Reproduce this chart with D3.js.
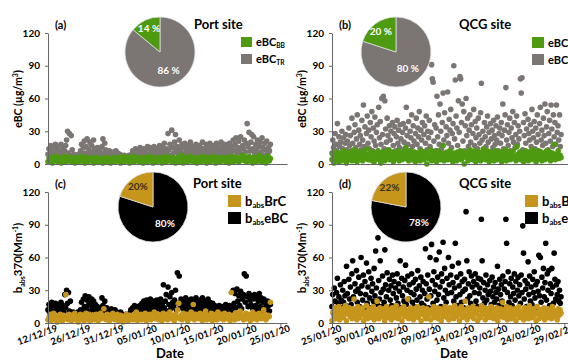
<!DOCTYPE html>
<html>
<head>
<meta charset="utf-8">
<script src="https://cdn.jsdelivr.net/npm/d3@7"></script>
<style>
  body { margin: 0; background: #fff; }
  text { font-family: Lato, "Open Sans", sans-serif; font-weight: bold; }
</style>
</head>
<body>
<svg id="chart" width="568" height="360"></svg>
<script>
// tick labels
const yTicks = [0, 30, 60, 90, 120];
const portDates = ['12/12/19', '26/12/19', '31/12/19', '05/01/20', '10/01/20', '15/01/20', '20/01/20', '25/01/20'];
const qcgDates = ['25/01/20', '30/01/20', '04/02/20', '09/02/20', '14/02/20', '19/02/20', '24/02/20', '29/02/20'];

// days covered by each campaign (axis units, 5 per tick)
const portDays = 33.5;
const qcgDays = 34.5;

// pie shares [large, small]
const piePortEBC = [86, 14];
const pieQcgEBC = [80, 20];
const piePortAbs = [80, 20];
const pieQcgAbs = [78, 22];

// (a) port site eBC_TR (µg/m3)
const portTR = [
  9, 14, 7, 17, 11, 6, 15, 10, 18, 8, 13, 16, 7, 11, 18, 9, 14, 6, 12, 17,
  22, 30, 10, 28, 8, 26, 13, 7, 9, 6, 8, 7, 5, 9, 7, 12, 18, 8, 15, 21,
  10, 16, 23, 9, 13, 20, 7, 17, 11, 22, 14, 8, 12, 15, 9, 11, 14, 7, 16, 23,
  10, 19, 13, 8, 11, 7, 12, 9, 10, 6, 11, 8, 9, 12, 7, 10, 6, 9, 5, 8,
  6, 5, 8, 7, 5, 6, 4, 8, 6, 7, 9, 12, 7, 10, 14, 8, 11, 13, 6, 15,
  9, 12, 7, 14, 10, 8, 13, 16, 9, 11, 15, 7, 12, 10, 16, 8, 14, 11, 9, 13,
  17, 8, 12, 15, 10, 19, 9, 14, 11, 28, 13, 18, 8, 31, 15, 10, 20, 27, 12, 16,
  9, 22, 14, 11, 18, 8, 15, 19, 10, 13, 17, 9, 12, 20, 15, 8, 16, 11, 14, 18,
  10, 13, 17, 9, 15, 12, 20, 8, 14, 11, 18, 16, 9, 13, 19, 10, 15, 12, 17, 8,
  14, 19, 11, 16, 9, 13, 20, 10, 15, 12, 18, 8, 14, 17, 11, 19, 9, 13, 16, 22,
  12, 18, 24, 10, 15, 21, 13, 25, 9, 17, 14, 22, 11, 19, 37, 16, 29, 12, 20, 27,
  14, 25, 10, 18, 13, 22, 9, 16, 20, 11, 24, 15, 8, 19, 13, 21, 10, 15, 12, 18];
// (a) port site eBC_BB (µg/m3)
const portBB = [
  2, 5, 3, 6, 1, 4, 7, 3, 5, 2, 6, 4, 1, 5, 3, 7, 2, 4, 6, 3,
  5, 2, 6, 4, 1, 5, 3, 6, 2, 4, 7, 3, 5, 1, 6, 4, 2, 5, 3, 6,
  4, 1, 5, 3, 6, 2, 4, 5, 3, 1, 4, 6, 2, 5, 3, 4, 1, 5, 3, 6,
  2, 4, 6, 3, 5, 1, 4, 7, 2, 5, 3, 6, 4, 1, 5, 3, 7, 2, 4, 6,
  3, 5, 2, 6, 4, 1, 5, 3, 6, 2, 4, 7, 3, 5, 1, 6, 4, 2, 5, 3,
  6, 4, 1, 5, 3, 7, 2, 4, 6, 3, 5, 2, 6, 4, 1, 5, 3, 6, 2, 8,
  4, 1, 5, 3, 6, 2, 4, 7, 3, 5, 2, 6, 4, 1, 5, 3, 6, 2, 4, 7,
  3, 5, 1, 6, 4, 2, 5, 3, 7, 4, 1, 5, 3, 6, 2, 4, 6, 3, 5, 2,
  6, 4, 1, 5, 3, 7, 2, 4, 6, 3, 5, 2, 6, 4, 8, 5, 3, 6, 2, 4,
  7, 3, 5, 1, 6, 4, 2, 5, 3, 8, 4, 2, 6, 3, 5, 1, 4, 7, 3, 5];

// (b) QCG site eBC_TR (µg/m3)
const qcgTR = [
  10, 22, 15, 6, 28, 18, 12, 37, 8, 25, 16, 20, 9, 30, 14, 24, 11, 19, 27, 13,
  21, 8, 33, 17, 26, 12, 42, 19, 10, 29, 36, 15, 23, 45, 11, 31, 18, 26, 13, 40,
  22, 54, 16, 34, 9, 28, 44, 19, 31, 14, 38, 25, 48, 12, 33, 21, 43, 17, 29, 36,
  11, 52, 24, 39, 18, 60, 27, 62, 14, 58, 32, 20, 42, 26, 13, 35, 22, 30, 9, 38,
  17, 28, 34, 12, 25, 40, 19, 31, 15, 36, 23, 10, 29, 37, 20, 14, 33, 52, 26, 18,
  39, 12, 30, 24, 45, 16, 35, 21, 9, 28, 42, 18, 33, 25, 48, 14, 31, 22, 38, 11,
  27, 35, 19, 44, 13, 30, 24, 40, 16, 29, 91, 78, 75, 21, 36, 12, 33, 62, 25, 45,
  18, 55, 30, 14, 38, 65, 22, 47, 10, 34, 26, 66, 19, 41, 31, 50, 15, 28, 37, 90,
  23, 77, 44, 33, 17, 58, 29, 80, 78, 38, 55, 21, 48, 12, 35, 60, 26, 42, 16, 31,
  45, 20, 36, 11, 28, 50, 17, 39, 24, 33, 14, 42, 27, 19, 47, 74, 22, 30, 13, 38,
  25, 16, 34, 44, 20, 29, 11, 37, 23, 31, 15, 40, 26, 18, 35, 22, 43, 12, 28, 33,
  19, 38, 26, 55, 14, 31, 45, 70, 22, 36, 17, 29, 42, 12, 33, 24, 48, 20, 38, 15,
  27, 44, 18, 35, 23, 30, 78, 65, 79, 13, 38, 26, 46, 19, 32, 11, 41, 28, 22, 36,
  16, 50, 30, 24, 39, 14, 33, 20, 45, 27, 12, 37, 52, 22, 31, 17, 42, 26, 55, 19,
  34, 48, 13, 28, 40, 21, 54, 32, 16, 45, 25, 38, 18, 54, 29, 35, 22, 45, 16, 27];
// (b) QCG site eBC_BB (µg/m3)
const qcgBB = [
  4, 9, 1, 7, 11, 5, 8, 2, 10, 6, 3, 9, 12, 5, 7, 1, 8, 11, 4, 6,
  10, 3, 8, 13, 5, 7, 2, 9, 11, 4, 6, 10, 3, 8, 12, 5, 7, 14, 4, 9,
  6, 11, 3, 8, 2, 10, 5, 7, 12, 4, 9, 1, 6, 11, 8, 3, 10, 5, 7, 13,
  4, 9, 6, 11, 2, 8, 10, 5, 7, 12, 3, 9, 6, 4, 11, 8, 5, 15, 7, 10,
  3, 9, 12, 6, 4, 8, 11, 2, 7, 10, 5, 9, 3, 12, 6, 8, 4, 11, 7, 0,
  10, 5, 8, 13, 3, 7, 11, 6, 9, 2, 12, 5, 8, 4, 10, 7, 17, 3, 9, 6,
  11, 4, 8, 12, 5, 7, 2, 10, 6, 9, 3, 11, 8, 5, 12, 4, 7, 10, 0, 9,
  6, 11, 3, 8, 13, 5, 10, 4, 7, 12, 2, 9, 6, 11, 8, 3, 10, 5, 14, 7,
  4, 9, 12, 6, 2, 8, 11, 5, 10, 3, 7, 12, 4, 9, 6, 11, 8, 2, 10, 5,
  7, 13, 3, 9, 11, 6, 4, 10, 8, 12, 5, 7, 3, 16, 9, 6, 11, 4, 8, 10,
  2, 7, 12, 5, 9, 3, 11, 6, 8, 13, 4, 10, 7, 2, 9, 12, 5, 8, 11, 3,
  6, 10, 4, 9, 12, 7, 5, 11, 3, 8, 10, 6, 18, 4, 9, 7, 12, 5, 8, 6];

// (c) port site babs370 eBC (Mm-1)
const portEBC = [
  12, 17, 9, 15, 19, 11, 16, 8, 18, 13, 10, 17, 14, 9, 19, 12, 16, 10, 26, 14,
  30, 18, 28, 11, 20, 9, 8, 10, 7, 9, 6, 8, 10, 7, 9, 12, 19, 11, 22, 15,
  25, 13, 21, 16, 24, 11, 18, 22, 14, 20, 12, 17, 9, 15, 11, 14, 10, 13, 23, 16,
  12, 20, 9, 14, 11, 8, 12, 10, 13, 7, 11, 9, 12, 8, 10, 6, 9, 7, 10, 6,
  8, 5, 7, 6, 8, 5, 7, 6, 9, 12, 8, 14, 10, 16, 11, 13, 9, 15, 12, 16,
  10, 18, 13, 20, 11, 16, 21, 14, 19, 12, 22, 15, 18, 11, 20, 14, 17, 21, 13, 19,
  15, 22, 12, 18, 35, 14, 20, 26, 11, 33, 17, 24, 13, 28, 19, 15, 21, 30, 12, 46,
  18, 43, 14, 22, 16, 20, 12, 19, 23, 15, 21, 11, 18, 14, 22, 17, 13, 20, 16, 23,
  12, 19, 15, 21, 11, 18, 23, 14, 17, 20, 13, 16, 22, 10, 19, 15, 12, 18, 14, 16,
  11, 15, 13, 10, 16, 12, 14, 9, 15, 11, 13, 17, 10, 14, 12, 16, 11, 15, 13, 30,
  18, 27, 14, 31, 20, 25, 16, 29, 13, 22, 26, 45, 19, 43, 24, 15, 27, 21, 17, 25,
  13, 22, 26, 16, 24, 12, 20, 27, 15, 23, 11, 19, 22, 14, 18, 12, 20, 16, 11, 17];
// (c) port site babs370 BrC (Mm-1)
const portBrC = [
  3, 6, 8, 2, 5, 9, 4, 7, 1, 6, 3, 8, 5, 2, 7, 4, 26, 6, 3, 8,
  5, 2, 7, 4, 9, 3, 6, 1, 5, 8, 4, 7, 2, 6, 9, 3, 5, 8, 2, 6,
  4, 7, 3, 8, 5, 2, 6, 9, 4, 7, 13, 5, 3, 8, 6, 2, 7, 4, 9, 5,
  3, 6, 8, 2, 5, 7, 4, 1, 6, 3, 8, 5, 2, 7, 4, 6, 3, 8, 5, 10,
  2, 6, 4, 8, 3, 7, 5, 9, 2, 6, 4, 8, 3, 7, 5, 10, 4, 6, 8, 3,
  5, 7, 2, 9, 4, 6, 8, 3, 5, 10, 7, 4, 6, 2, 8, 5, 12, 18, 4, 7,
  3, 9, 5, 6, 8, 2, 7, 4, 10, 6, 17, 3, 8, 5, 7, 4, 9, 6, 2, 8,
  5, 11, 3, 7, 6, 4, 9, 2, 8, 5, 7, 3, 10, 4, 6, 8, 5, 3, 9, 7,
  4, 6, 8, 2, 28, 5, 7, 3, 9, 6, 4, 8, 11, 5, 7, 3, 6, 9, 4, 8,
  5, 2, 7, 10, 4, 6, 8, 3, 5, 9, 7, 4, 6, 12, 8, 3, 5, 7, 6, 19];

// (d) QCG site babs370 eBC (Mm-1)
const qcgEBC = [
  15, 26, 9, 32, 20, 12, 28, 41, 18, 24, 11, 35, 21, 14, 30, 19, 38, 25, 16, 52,
  27, 13, 40, 22, 33, 17, 45, 57, 24, 11, 36, 29, 48, 19, 31, 42, 15, 27, 60, 34,
  21, 44, 12, 38, 26, 55, 18, 33, 47, 23, 14, 41, 29, 36, 20, 50, 25, 66, 32, 17,
  78, 39, 22, 57, 28, 15, 43, 31, 19, 67, 35, 24, 46, 13, 30, 40, 21, 34, 16, 44,
  27, 38, 12, 32, 23, 45, 18, 36, 29, 57, 14, 41, 25, 33, 20, 39, 53, 17, 30, 43,
  22, 35, 11, 28, 45, 19, 37, 26, 15, 40, 31, 21, 48, 13, 34, 24, 42, 18, 30, 38,
  16, 27, 68, 36, 22, 44, 14, 31, 60, 25, 72, 39, 18, 47, 29, 35, 58, 21, 42, 26,
  65, 33, 15, 45, 38, 74, 23, 50, 30, 19, 41, 27, 60, 35, 12, 44, 28, 52, 37, 20,
  32, 73, 24, 42, 16, 55, 34, 26, 45, 19, 38, 29, 14, 40, 31, 102, 57, 22, 36, 47,
  25, 18, 43, 33, 12, 38, 28, 45, 20, 35, 15, 41, 27, 32, 40, 95, 57, 23, 37, 18,
  30, 44, 21, 35, 26, 13, 39, 29, 17, 42, 24, 33, 19, 37, 28, 22, 52, 31, 16, 40,
  26, 35, 20, 43, 14, 31, 38, 95, 73, 28, 47, 19, 36, 24, 41, 16, 33, 27, 45, 21,
  38, 13, 30, 42, 25, 35, 18, 44, 28, 89, 64, 22, 39, 31, 15, 36, 56, 26, 43, 20,
  33, 17, 40, 28, 47, 23, 35, 14, 38, 29, 62, 25, 60, 19, 42, 32, 50, 24, 37, 73,
  21, 45, 30, 48, 16, 36, 27, 50, 33, 18, 64, 40, 22, 35, 26, 38, 20, 30, 18, 24];
// (d) QCG site babs370 BrC (Mm-1)
const qcgBrC = [
  2, 10, 6, 14, 4, 12, 8, 15, 3, 11, 7, 13, 5, 9, 16, 2, 12, 8, 14, 6,
  10, 4, 13, 22, 7, 11, 3, 15, 9, 5, 12, 8, 14, 2, 10, 6, 16, 4, 11, 8,
  13, 5, 9, 15, 3, 12, 7, 20, 10, 4, 14, 8, 11, 6, 13, 2, 9, 15, 5, 12,
  7, 10, 3, 14, 8, 12, 5, 16, 9, 4, 11, 7, 13, 2, 10, 15, 6, 12, 8, 22,
  4, 11, 14, 7, 9, 3, 13, 6, 10, 15, 5, 12, 8, 2, 11, 14, 7, 9, 4, 13,
  6, 24, 10, 3, 12, 8, 15, 5, 11, 7, 14, 4, 9, 13, 2, 10, 6, 12, 15, 8,
  5, 11, 3, 14, 9, 7, 12, 4, 16, 10, 6, 13, 8, 2, 11, 15, 5, 9, 12, 20,
  7, 3, 14, 10, 6, 12, 8, 15, 4, 11, 9, 13, 2, 7, 12, 5, 16, 10, 8, 14,
  3, 11, 6, 13, 9, 5, 15, 8, 12, 4, 10, 7, 14, 2, 11, 6, 13, 9, 19, 5,
  12, 8, 15, 3, 10, 7, 14, 4, 11, 9, 6, 13, 2, 12, 8, 15, 5, 10, 7, 11,
  3, 14, 9, 6, 12, 4, 16, 8, 11, 5, 13, 7, 10, 2, 15, 9, 4, 12, 8, 6,
  11, 14, 3, 10, 7, 13, 5, 12, 9, 4, 15, 8, 11, 6, 10, 3, 13, 7, 12, 9];

const green = '#4e9a10', grey = '#7b7674', gold = '#c6961c', black = '#000';
const svg = d3.select('#chart');

function panel(o) {
  const g = svg.append('g');
  const x = d3.scaleLinear().domain([0, 36]).range([o.left, o.left + 239]);
  const y = d3.scaleLinear().domain([0, 120]).range([o.bottom, o.bottom - 131]);

  // scatter, upper series first, lower series on top
  [[o.upper, o.colors[0]], [o.lower, o.colors[1]]].forEach(([vals, col]) => {
    const step = o.days / (vals.length - 1);
    g.append('g').selectAll('circle').data(vals).join('circle')
      .attr('cx', (d, i) => x(i * step))
      .attr('cy', d => y(d))
      .attr('r', 2.8)
      .attr('fill', col);
  });

  const ya = g.append('g').attr('transform', `translate(${o.left},0)`)
    .call(d3.axisLeft(y).tickValues(yTicks).tickSize(3).tickSizeOuter(0).tickPadding(5));
  ya.selectAll('text').attr('font-size', 10).attr('fill', '#000');

  const xa = g.append('g').attr('transform', `translate(0,${o.bottom})`)
    .call(d3.axisBottom(x).tickValues(o.dates ? d3.range(0, 36, 5) : [])
      .tickSize(4).tickSizeOuter(0).tickFormat((d, i) => o.dates ? o.dates[i] : ''));
  g.selectAll('.domain, .tick line').attr('stroke', '#666');
  xa.selectAll('text')
    .attr('font-size', 9.5).attr('fill', '#000')
    .attr('text-anchor', 'middle').attr('dy', 0).attr('y', 0)
    .attr('transform', 'translate(-10,15) rotate(-20)');

  if (o.dates) {
    g.append('text').attr('x', o.left + 122).attr('y', o.bottom + 35)
      .attr('text-anchor', 'middle').attr('font-size', 13).text('Date');
  }

  // panel letter
  g.append('text').attr('x', o.left + 7).attr('y', o.bottom - 135)
    .attr('font-size', 11).text(o.letter);

  // y axis title
  const yt = g.append('text')
    .attr('transform', `translate(${o.left - 26},${o.bottom - 65}) rotate(-90)`)
    .attr('text-anchor', 'middle').attr('font-size', o.abs ? 11.5 : 10.5);
  if (o.abs) {
    yt.append('tspan').text('b');
    yt.append('tspan').text('abs').attr('font-size', 7).attr('dy', 3);
    yt.append('tspan').text('370(Mm').attr('dy', -3);
    yt.append('tspan').text('-1').attr('font-size', 7).attr('dy', -4);
    yt.append('tspan').text(')').attr('dy', 4);
  } else {
    yt.append('tspan').text('eBC (µg/m');
    yt.append('tspan').text('3').attr('font-size', 7).attr('dy', -4);
    yt.append('tspan').text(')').attr('dy', 4);
  }

  // site title
  g.append('text').attr('x', o.titleX).attr('y', o.bottom - 135)
    .attr('font-size', 13).text(o.title);

  // legend
  o.legend.forEach((lab, i) => {
    const ly = o.legY + i * o.legGap;
    g.append('rect').attr('x', o.legX).attr('y', ly)
      .attr('width', o.legSize).attr('height', o.legSize - 1)
      .attr('fill', o.colors[1 - i]);
    const t = g.append('text').attr('x', o.legX + o.legSize + 4).attr('y', ly + o.legSize - 2)
      .attr('font-size', o.legFont);
    t.append('tspan').text(lab[0]);
    t.append('tspan').text(lab[1]).attr('font-size', o.legFont * 0.6).attr('dy', 2);
    t.append('tspan').text(lab[2]).attr('dy', -2);
  });

  // pie
  const r = 35;
  const pg = g.append('g').attr('transform', `translate(${o.pieX},${o.pieY})`);
  const arcs = d3.pie().sort(null)(o.pie);
  const arc = d3.arc().innerRadius(0).outerRadius(r);
  pg.selectAll('path').data(arcs).join('path')
    .attr('d', arc)
    .attr('fill', (d, i) => o.colors[i])
    .attr('stroke', '#ddd').attr('stroke-width', 0.8);
  const labR = [0.58, 0.74];
  pg.selectAll('text').data(arcs).join('text')
    .attr('transform', (d, i) => `translate(${d3.arc().innerRadius(r * labR[i]).outerRadius(r * labR[i]).centroid(d)})`)
    .attr('text-anchor', 'middle').attr('dy', '0.35em')
    .attr('font-size', 10)
    .attr('fill', (d, i) => i === 1 && o.abs ? '#3a3020' : '#fff')
    .text((d, i) => o.pie[i] + o.pctSep + '%');
}

panel({ left: 48, bottom: 164, letter: '(a)', title: 'Port site', titleX: 194,
  upper: portTR, lower: portBB, days: portDays, colors: [grey, green],
  pie: piePortEBC, pieX: 160, pieY: 52, pctSep: ' ',
  legend: [['eBC', 'BB', ''], ['eBC', 'TR', '']], legX: 241, legY: 37, legGap: 17, legSize: 11, legFont: 11 });

panel({ left: 332, bottom: 164, letter: '(b)', title: 'QCG site', titleX: 459,
  upper: qcgTR, lower: qcgBB, days: qcgDays, colors: [grey, green],
  pie: pieQcgEBC, pieX: 396, pieY: 52, pctSep: ' ',
  legend: [['eBC', 'BB', ''], ['eBC', 'TR', '']], legX: 532, legY: 37, legGap: 17, legSize: 12, legFont: 11 });

panel({ left: 48, bottom: 323, letter: '(c)', title: 'Port site', titleX: 193, abs: true,
  upper: portEBC, lower: portBrC, days: portDays, colors: [black, gold], dates: portDates,
  pie: piePortAbs, pieX: 153, pieY: 207, pctSep: '',
  legend: [['b', 'abs', 'BrC'], ['b', 'abs', 'eBC']], legX: 228, legY: 195, legGap: 17, legSize: 13, legFont: 13 });

panel({ left: 332, bottom: 323, letter: '(d)', title: 'QCG site', titleX: 459, abs: true,
  upper: qcgEBC, lower: qcgBrC, days: qcgDays, colors: [black, gold], dates: qcgDates,
  pie: pieQcgAbs, pieX: 406, pieY: 207, pctSep: '',
  legend: [['b', 'abs', 'BrC'], ['b', 'abs', 'eBC']], legX: 525, legY: 195, legGap: 17, legSize: 13, legFont: 13 });
</script>
</body>
</html>
